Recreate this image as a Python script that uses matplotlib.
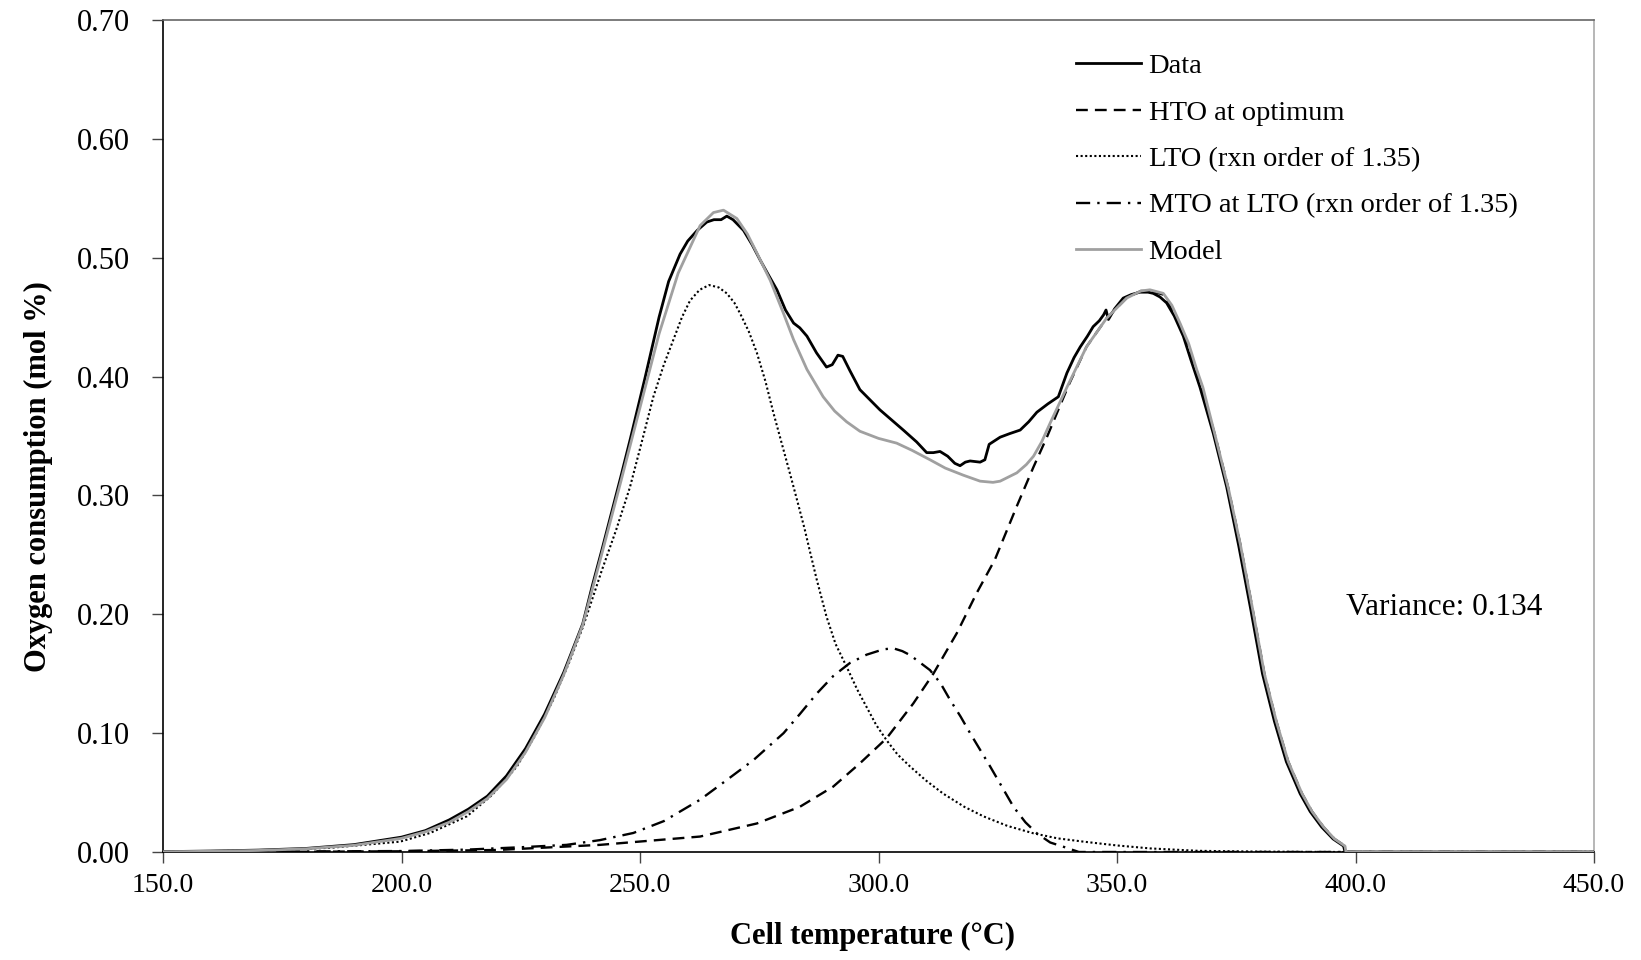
import matplotlib
matplotlib.use("Agg")
import matplotlib.pyplot as plt

# ======================================================
# Data
# ======================================================

data_t = [150, 160, 170, 180, 190, 200, 205, 210, 214, 218, 222, 226, 230, 234, 238,
          240, 242, 244, 246, 248, 251, 254, 256, 258.4, 260, 262, 264, 265.5, 267, 268.2,
          269.5, 271.7, 273.5, 275.2, 277, 278.7, 280.5, 282.2, 283.5, 285, 287, 289.1,
          290.3, 291.5, 292.5, 294, 296.1, 300.3, 305.2, 308, 310.1, 311.5, 312.9, 314.5,
          316, 317.1, 318.2, 319.2, 321.3, 322.3, 323.2, 325.5, 327.5, 329.7, 331.5, 333.2,
          335.5, 337.7, 339.5, 341, 342.3, 343.8, 345, 346.3, 347.2, 347.7, 348.2, 349.5,
          351.3, 353, 354.8, 356.5, 357.6, 359, 360.4, 362, 363.9, 365.5, 367.4, 370.2,
          373, 375.5, 378, 380.5, 383, 385.5, 388.4, 390.5, 392.9, 395.3, 397.5, 397.8,
          400, 450]
data_v = [0.0003, 0.0008, 0.0016, 0.0030, 0.0062, 0.0125, 0.018, 0.027, 0.036, 0.047,
          0.064, 0.087, 0.116, 0.151, 0.192, 0.224, 0.254, 0.285, 0.316, 0.348, 0.398,
          0.450, 0.480, 0.503, 0.514, 0.523, 0.530, 0.532, 0.532, 0.535, 0.532, 0.523,
          0.511, 0.498, 0.485, 0.473, 0.456, 0.445, 0.441, 0.434, 0.420, 0.408, 0.410,
          0.418, 0.417, 0.405, 0.389, 0.372, 0.355, 0.345, 0.336, 0.336, 0.337, 0.333,
          0.327, 0.325, 0.328, 0.329, 0.328, 0.330, 0.343, 0.349, 0.352, 0.355, 0.362,
          0.370, 0.377, 0.383, 0.403, 0.416, 0.425, 0.434, 0.442, 0.447, 0.452, 0.456,
          0.448, 0.457, 0.466, 0.469, 0.471, 0.471, 0.470, 0.467, 0.462, 0.451, 0.434,
          0.414, 0.391, 0.352, 0.307, 0.258, 0.205, 0.150, 0.110, 0.076, 0.049, 0.034,
          0.021, 0.011, 0.005, 0.0, 0.0, 0.0]

model_t = [150, 160, 170, 180, 190, 200, 205, 210, 214, 218, 222, 226, 230, 234, 238,
           242, 246, 250, 254, 258, 262.6, 265.4, 267.5, 270.3, 272.5, 274.5, 277.3,
           280.1, 282.2, 285, 288.4, 290.8, 293.3, 296.1, 300, 303.8, 307, 310.8, 314,
           317.8, 321.3, 324, 325.5, 327, 329, 331, 332.5, 334.2, 336, 339.5, 343.6,
           347.8, 352, 355, 356.9, 359.7, 361.5, 363.2, 365, 366.7, 368, 370.6, 373.4,
           375.9, 378.4, 380.9, 383.4, 385.9, 388.8, 390.9, 393.3, 395.6, 397.8, 398, 450]
model_v = [0.0002, 0.0006, 0.0013, 0.0027, 0.0056, 0.0115, 0.017, 0.025, 0.034, 0.045,
           0.061, 0.084, 0.113, 0.149, 0.191, 0.251, 0.312, 0.374, 0.436, 0.487, 0.527,
           0.538, 0.540, 0.533, 0.520, 0.504, 0.481, 0.453, 0.431, 0.406, 0.383, 0.371,
           0.362, 0.354, 0.348, 0.344, 0.338, 0.330, 0.323, 0.317, 0.312, 0.311, 0.312,
           0.315, 0.319, 0.326, 0.333, 0.345, 0.361, 0.391, 0.425, 0.449, 0.466, 0.472,
           0.473, 0.470, 0.460, 0.445, 0.428, 0.406, 0.391, 0.350, 0.305, 0.258, 0.205,
           0.150, 0.110, 0.076, 0.049, 0.034, 0.021, 0.011, 0.005, 0.0, 0.0]

hto_t = [150, 180, 200, 220, 241.6, 262.6, 274.5, 283.5, 290.5, 296.1, 301.7, 307.3,
         311.5, 316.4, 320.6, 324.4, 329, 332.5, 335.3, 338, 340, 343.6, 347.8, 352,
         355, 357, 359.7, 363.2, 366.7, 370.6, 373.4, 375.9, 378.4, 380.9, 383.4, 385.9,
         388.8, 390.9, 393.3, 395.6, 397.8, 398, 450]
hto_v = [0.0, 0.0002, 0.0006, 0.0017, 0.006, 0.013, 0.024, 0.038, 0.055, 0.0746, 0.0957,
         0.125, 0.150, 0.184, 0.218, 0.246, 0.291, 0.324, 0.349, 0.375, 0.394, 0.425,
         0.449, 0.466, 0.472, 0.472, 0.469, 0.444, 0.405, 0.350, 0.305, 0.258, 0.205,
         0.150, 0.110, 0.076, 0.049, 0.034, 0.021, 0.011, 0.005, 0.0, 0.0]

lto_t = [150, 170, 185, 199.7, 206, 213.7, 219, 224.2, 228, 231.8, 235, 238.1, 242, 245,
         247.9, 250.5, 252.8, 255, 257, 258.8, 260.5, 262.5, 264.5, 266.5, 268.2, 269.8,
         271, 272.8, 274.5, 276.3, 278, 279.7, 281.4, 283, 284.5, 285.5, 287, 289.1, 291,
         293.3, 295.5, 297.5, 299.5, 301.7, 304, 306.6, 310, 313.6, 318, 322, 327, 332.5,
         337.5, 343, 350, 357, 367, 380, 398, 450]
lto_v = [0.0002, 0.0012, 0.0035, 0.0087, 0.016, 0.030, 0.048, 0.072, 0.098, 0.128, 0.158,
         0.190, 0.237, 0.271, 0.307, 0.347, 0.383, 0.410, 0.431, 0.450, 0.464, 0.473,
         0.477, 0.475, 0.470, 0.462, 0.453, 0.438, 0.420, 0.396, 0.369, 0.344, 0.319,
         0.295, 0.272, 0.255, 0.230, 0.198, 0.175, 0.156, 0.137, 0.122, 0.107, 0.094,
         0.082, 0.072, 0.060, 0.049, 0.038, 0.030, 0.022, 0.0157, 0.0115, 0.0087, 0.0055,
         0.003, 0.001, 0.0003, 0.0, 0.0]

mto_t = [150, 200, 213.7, 225, 234.6, 241.6, 248.6, 255, 262.6, 268, 273.8, 280.1, 283.5,
         287.1, 290.5, 294, 297.5, 301, 303.1, 305, 306.6, 308.5, 310.8, 313, 315, 317.2,
         319.2, 321.3, 323.4, 326, 328.3, 330.8, 333.2, 336, 338.7, 342, 450]
mto_v = [0.0, 0.0008, 0.002, 0.004, 0.006, 0.010, 0.016, 0.026, 0.044, 0.060, 0.0774,
         0.100, 0.116, 0.1335, 0.148, 0.159, 0.166, 0.1705, 0.1714, 0.169, 0.1657, 0.160,
         0.153, 0.142, 0.128, 0.114, 0.100, 0.086, 0.072, 0.054, 0.038, 0.025, 0.0157,
         0.008, 0.0045, 0.0, 0.0]

x_ticks = [150, 200, 250, 300, 350, 400, 450]
y_ticks = [0.0, 0.1, 0.2, 0.3, 0.4, 0.5, 0.6, 0.7]

# ======================================================
# Plot
# ======================================================

plt.rcParams["font.family"] = ["Liberation Serif", "DejaVu Serif"]

fig = plt.figure(figsize=(16.41, 9.6), dpi=100)
ax = fig.add_axes([163 / 1641, 1 - 852 / 960, 1431 / 1641, 832 / 960])

ax.plot(data_t, data_v, color="black", lw=2.0, label="Data", zorder=4)
ax.plot(hto_t, hto_v, color="black", lw=1.7, linestyle=(0, (5, 3)),
        label="HTO at optimum", zorder=3)
ax.plot(lto_t, lto_v, color="black", lw=1.5, linestyle=(0, (1, 1.2)),
        label="LTO (rxn order of 1.35)", zorder=3)
ax.plot(mto_t, mto_v, color="black", lw=1.7, linestyle=(0, (6, 3, 1, 3)),
        label="MTO at LTO (rxn order of 1.35)", zorder=3)
ax.plot(model_t, model_v, color="#a0a0a0", lw=2.0, label="Model", zorder=5)

ax.set_xlim(150, 450)
ax.set_ylim(0, 0.70)
ax.set_xticks(x_ticks)
ax.set_xticklabels([f"{t:.1f}" for t in x_ticks], fontsize=20)
ax.set_yticks(y_ticks)
ax.set_yticklabels([f"{v:.2f}" for v in y_ticks], fontsize=22)
ax.tick_params(axis="both", direction="out", length=8, width=1, color="#444444")
ax.tick_params(axis="x", pad=7)
ax.tick_params(axis="y", pad=16)

ax.spines["left"].set_color("black")
ax.spines["bottom"].set_color("black")
ax.spines["top"].set_color("#666666")
ax.spines["right"].set_color("#aaaaaa")
for s in ax.spines.values():
    s.set_linewidth(1.2)

fig.text(38 / 1641, 1 - 477 / 960, "Oxygen consumption (mol %)", rotation=90,
         ha="center", va="center", fontsize=22, fontweight="bold")
fig.text(872 / 1641, 1 - 936 / 960, "Cell temperature (\u00b0C)",
         ha="center", va="center", fontsize=22, fontweight="bold")

ax.text(0.827, 0.294, "Variance: 0.134", transform=ax.transAxes,
        ha="left", va="center", fontsize=22.5)

ax.legend(loc="upper left", bbox_to_anchor=(0.638, 0.960), frameon=False,
          fontsize=20.5, handlelength=2.3, handletextpad=0.25,
          labelspacing=0.72, borderpad=0, borderaxespad=0)

fig.savefig("out.png", dpi=100)
